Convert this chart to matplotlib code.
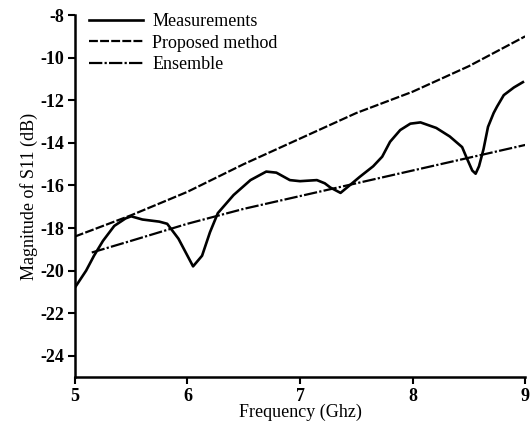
import matplotlib
matplotlib.use('Agg')
import matplotlib.pyplot as plt

meas_f = [5.0, 5.1, 5.17, 5.25, 5.35, 5.45, 5.5, 5.6, 5.75, 5.82, 5.92, 6.0, 6.05,
          6.13, 6.2, 6.27, 6.41, 6.56, 6.7, 6.79, 6.91, 7.0, 7.15, 7.22, 7.27, 7.36,
          7.44, 7.53, 7.65, 7.73, 7.8, 7.89, 7.98, 8.07, 8.21, 8.33, 8.44, 8.48,
          8.53, 8.56, 8.59, 8.63, 8.67, 8.72, 8.75, 8.81, 8.9, 8.98]
meas_db = [-20.8, -20.0, -19.3, -18.6, -17.9, -17.55, -17.45, -17.6, -17.7, -17.8,
           -18.5, -19.3, -19.8, -19.3, -18.2, -17.3, -16.45, -15.75, -15.35, -15.4,
           -15.75, -15.8, -15.75, -15.9, -16.1, -16.35, -16.0, -15.6, -15.1, -14.65,
           -13.95, -13.4, -13.1, -13.04, -13.3, -13.7, -14.2, -14.7, -15.3, -15.45,
           -15.1, -14.3, -13.25, -12.6, -12.3, -11.76, -11.4, -11.15]

# Proposed method
prop_f = [5.0, 5.5, 6.0, 6.5, 7.0, 7.5, 8.0, 8.5, 9.0]
prop_db = [-18.4, -17.4, -16.3, -15.0, -13.8, -12.6, -11.6, -10.4, -9.0]

# Ensemble
ens_f = [5.15, 5.5, 6.0, 6.5, 7.0, 7.5, 8.0, 8.5, 9.0]
ens_db = [-19.15, -18.6, -17.8, -17.1, -16.5, -15.9, -15.3, -14.7, -14.1]

plt.rcParams['font.family'] = ['Liberation Serif', 'DejaVu Serif']
plt.rcParams['axes.unicode_minus'] = False

fig = plt.figure(figsize=(5.31, 4.30), dpi=100)
ax = fig.add_axes([0.141, 0.123, 0.848, 0.842])

ax.plot(meas_f, meas_db, color='black', lw=1.9, label='Measurements')
ax.plot(prop_f, prop_db, color='black', lw=1.6, dashes=(4, 1), label='Proposed method')
ax.plot(ens_f, ens_db, color='black', lw=1.6, dashes=(6, 1, 1, 1), label='Ensemble')

ax.set_xlim(5, 9)
ax.set_ylim(-25, -8)
ax.set_xticks([5, 6, 7, 8, 9])
ax.set_yticks([-8, -10, -12, -14, -16, -18, -20, -22, -24])
for lab in ax.get_xticklabels() + ax.get_yticklabels():
    lab.set_fontweight('bold')
    lab.set_fontsize(13)
ax.tick_params(direction='out', length=5, width=1.5, pad=3)
ax.spines['top'].set_visible(False)
ax.spines['right'].set_visible(False)
ax.spines['left'].set_linewidth(1.8)
ax.spines['bottom'].set_linewidth(1.8)

ax.set_xlabel('Frequency (Ghz)', fontsize=13, labelpad=-1)
ax.set_ylabel('Magnitude of S11 (dB)', fontsize=13, labelpad=1)

ax.legend(loc='upper left', frameon=False, fontsize=13, handlelength=3.0,
          bbox_to_anchor=(-0.005, 1.05), labelspacing=0.25, handletextpad=0.5)

fig.savefig('out.png', dpi=100)
